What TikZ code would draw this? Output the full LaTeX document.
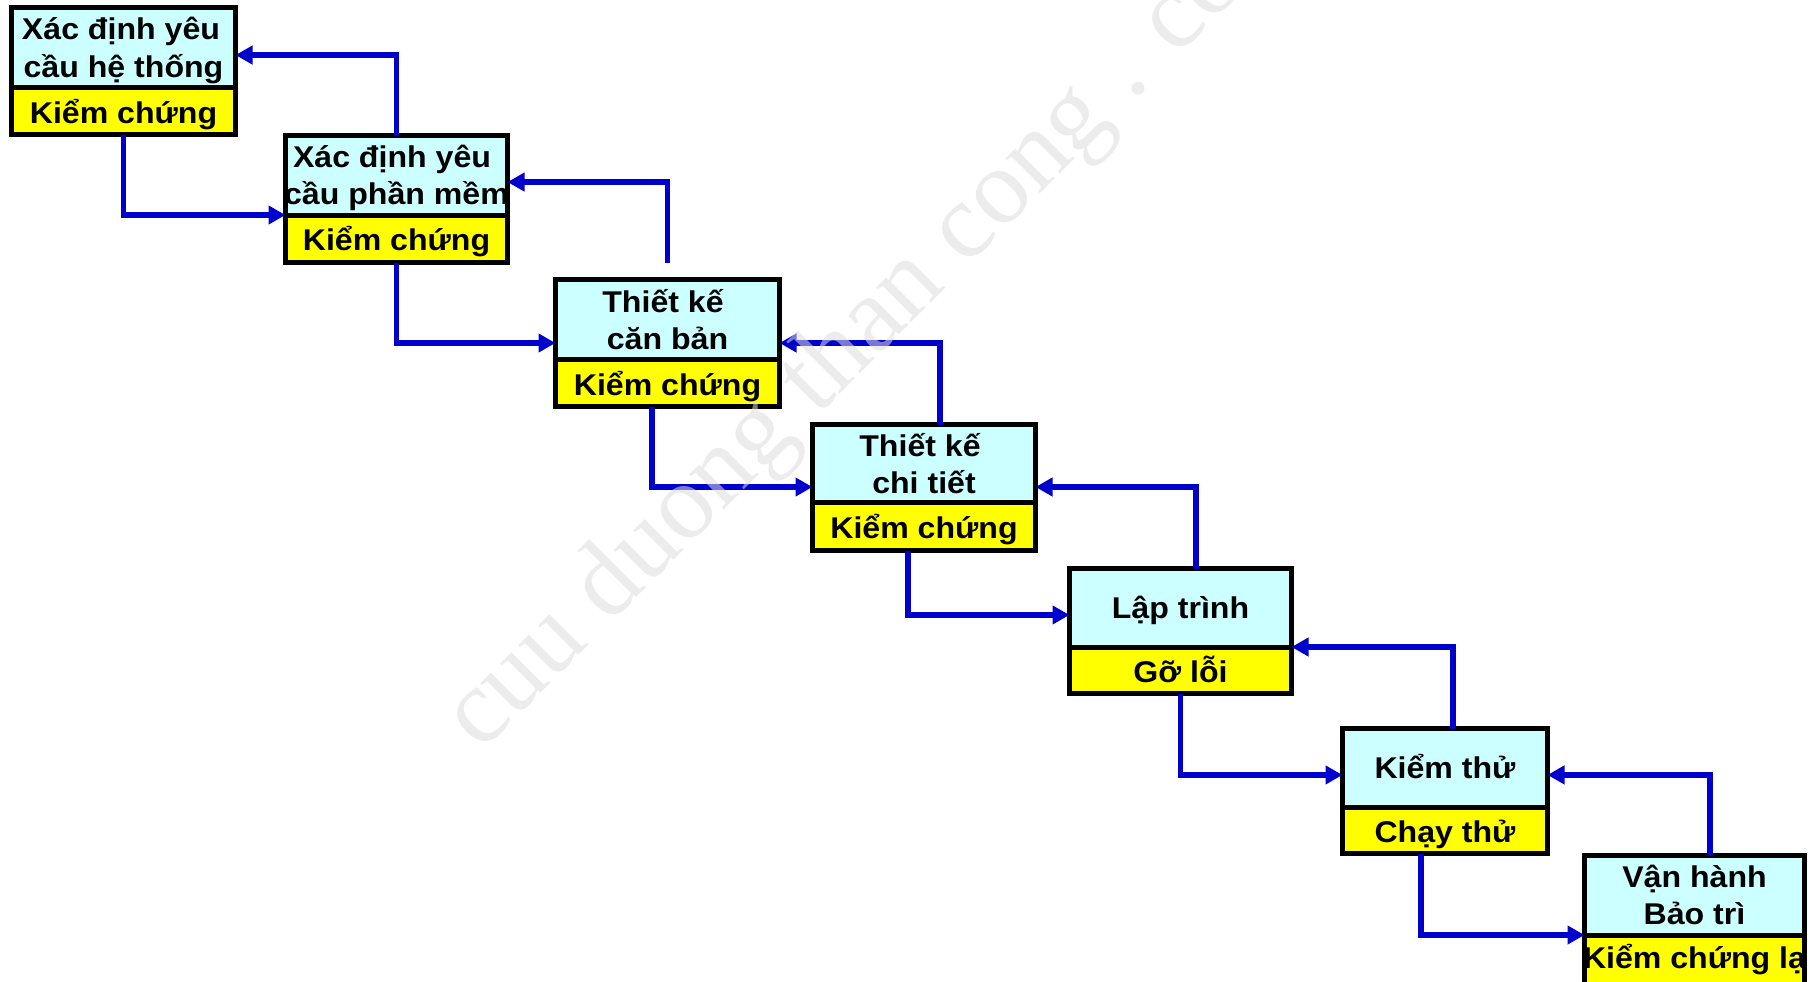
\documentclass[tikz,border=0pt]{standalone}
\usepackage{fontspec}
\setmainfont{Liberation Sans}[FakeStretch=1.07]
\newfontfamily\wmfont{Liberation Serif}
\usetikzlibrary{arrows.meta,fit}
\definecolor{boxcyan}{HTML}{CCFFFF}
\definecolor{boxyellow}{HTML}{FFFF00}
\definecolor{flowblue}{HTML}{0000CC}
\definecolor{wmgray}{HTML}{DEDEDE}
\tikzset{
  cypart/.style={draw=black, line width=2.5pt, fill=boxcyan, inner sep=0pt, outer sep=0pt},
  yepart/.style={draw=black, line width=2.5pt, fill=boxyellow, inner sep=0pt, outer sep=0pt},
  lbl/.style={font=\bfseries\fontsize{15pt}{18pt}\selectfont, inner sep=0pt, anchor=base},
  flow/.style={draw=flowblue, line width=2.6pt, -{Triangle[length=8.5pt,width=9pt]}, line join=miter},
  watermark/.style={text=wmgray, text opacity=0.55, font=\wmfont\fontsize{53.5pt}{54pt}\selectfont, anchor=base west, rotate=45, inner sep=0pt},
}
\begin{document}
\begin{tikzpicture}[x=0.5pt,y=-0.5pt]
\useasboundingbox (0,0) rectangle (1810,981);
\clip (0,0) rectangle (1810,981);
\fill[white] (0,0) rectangle (1810,981);
% stage 1
\node[cypart, fit={(11.5,7.5) (235.5,87)}] (b1t) {};
\node[yepart, fit={(11.5,87) (235.5,134.5)}] (b1b) {};
\node[lbl] (t1a) at (121,39.5) {Xác định yêu};
\node[lbl] (t1b) at (123.5,77) {cầu hệ thống};
\node[lbl] (t1c) at (123.5,123) {Kiểm chứng};
% stage 2
\node[cypart, fit={(285.5,135.5) (507.5,215)}] (b2t) {};
\node[yepart, fit={(285.5,215) (507.5,262.5)}] (b2b) {};
\node[lbl] (t2a) at (392,167.5) {Xác định yêu};
\node[lbl] (t2b) at (396.5,204.5) {cầu phần mềm};
\node[lbl] (t2c) at (396.5,250) {Kiểm chứng};
% stage 3
\node[cypart, fit={(555.5,279.5) (779.5,359)}] (b3t) {};
\node[yepart, fit={(555.5,359) (779.5,406.5)}] (b3b) {};
\node[lbl] (t3a) at (663,312) {Thiết kế};
\node[lbl] (t3b) at (667.5,349) {căn bản};
\node[lbl] (t3c) at (667.5,395) {Kiểm chứng};
% stage 4
\node[cypart, fit={(812.5,424.5) (1035.5,502)}] (b4t) {};
\node[yepart, fit={(812.5,502) (1035.5,550.5)}] (b4b) {};
\node[lbl] (t4a) at (920,456) {Thiết kế};
\node[lbl] (t4b) at (924,493) {chi tiết};
\node[lbl] (t4c) at (924,538) {Kiểm chứng};
% stage 5
\node[cypart, fit={(1069.5,568.5) (1291.5,647)}] (b5t) {};
\node[yepart, fit={(1069.5,647) (1291.5,693.5)}] (b5b) {};
\node[lbl] (t5a) at (1180.5,618) {Lập trình};
\node[lbl] (t5c) at (1180.5,682) {Gỡ lỗi};
% stage 6
\node[cypart, fit={(1342.5,728.5) (1547.5,807)}] (b6t) {};
\node[yepart, fit={(1342.5,807) (1547.5,853.5)}] (b6b) {};
\node[lbl] (t6a) at (1445,778) {Kiểm thử};
\node[lbl] (t6c) at (1445,842) {Chạy thử};
% stage 7
\node[cypart, fit={(1584.5,855.5) (1804.5,935)}] (b7t) {};
\node[yepart, fit={(1584.5,935) (1804.5,1010)}] (b7b) {};
\node[lbl] (t7a) at (1694.5,887.5) {Vận hành};
\node[lbl] (t7b) at (1694.5,924.5) {Bảo trì};
\node[lbl] (t7c) at (1694.5,968) {Kiểm chứng lạ};
% forward connectors
\draw[flow] (b1b.south) |- (b2t.south west);
\draw[flow] (b2b.south) |- ([yshift=8pt]b3t.south west);
\draw[flow] ([xshift=-7.75pt]b3b.south) |- ([yshift=7.5pt]b4t.south west);
\draw[flow] ([xshift=-8pt]b4b.south) |- ([yshift=-3.6pt]b5t.west);
\draw[flow] (b5b.south) |- ([yshift=-3.6pt]b6t.west);
\draw[flow] ([xshift=-12pt]b6b.south) |- (b7t.south west);
% feedback connectors
\coordinate (c2) at ([yshift=8.25pt]b3t.north);
\draw[flow] (b2t.north) |- ([yshift=-3.9pt]b1t.east);
\draw[flow] (c2) |- ([yshift=-3.4pt]b2t.east);
\draw[flow] ([xshift=8pt]b4t.north) |- ([yshift=8pt]b3t.south east);
\draw[flow] ([xshift=7.75pt]b5t.north) |- ([yshift=7.5pt]b4t.south east);
\draw[flow] ([xshift=4pt]b6t.north) |- (b5t.south east);
\draw[flow] ([xshift=7.75pt]b7t.north) |- ([yshift=-3.6pt]b6t.east);
% watermark
\node[watermark] (wm) at (481,753) {cuu duong than cong . com};
\end{tikzpicture}
\end{document}
